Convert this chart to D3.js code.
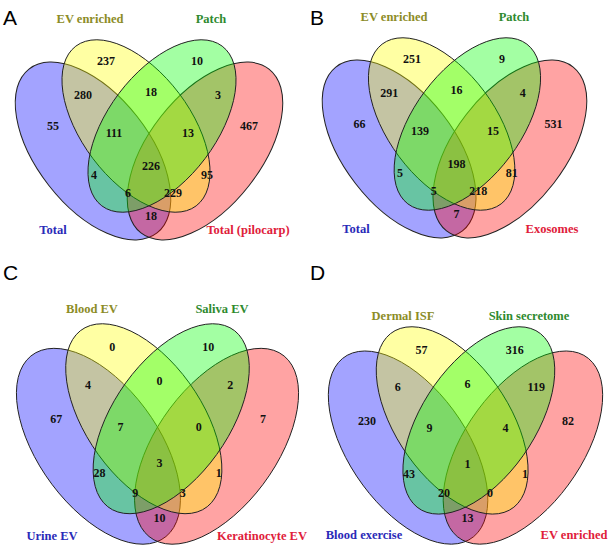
<!DOCTYPE html>
<html>
<head>
<meta charset="utf-8">
<script src="https://cdn.jsdelivr.net/npm/d3@7"></script>
<style>
  body { margin: 0; background: #fff; }
  text { font-family: "Liberation Serif", "Times New Roman", serif; font-weight: bold; }
</style>
</head>
<body>
<div class="chart"></div>
<script>
var svgWidth = 614;
var svgHeight = 548;

// panel data
var panelLetters = ["A", "B", "C", "D"];
var setNames = [
    ["Total", "EV enriched", "Patch", "Total (pilocarp)"],
    ["Total", "EV enriched", "Patch", "Exosomes"],
    ["Urine EV", "Blood EV", "Saliva EV", "Keratinocyte EV"],
    ["Blood exercise", "Dermal ISF", "Skin secretome", "EV enriched"]
];
// region order: Y, G, BY, YG, GR, B, BYG, YGR, R, BG, BYGR, YR, left-low, right-low, BR
var countsA = [237, 10, 280, 18, 3, 55, 111, 13, 467, 4, 226, 95, 6, 229, 18];
var countsB = [251, 9, 291, 16, 4, 66, 139, 15, 531, 5, 198, 81, 5, 218, 7];
var countsC = [0, 10, 4, 0, 2, 67, 7, 0, 7, 28, 3, 1, 9, 3, 10];
var countsD = [57, 316, 6, 6, 119, 230, 9, 4, 82, 43, 1, 1, 20, 0, 13];
var allCounts = [countsA, countsB, countsC, countsD];

// layout (base geometry drawn in a 12..286 x 40..237 box)
var regionPos = [[106,61],[197,61],[83,95],[151,92],[218,95],[53,126],[114,133],[188,133],
                 [249,126],[94,175],[151,166],[207,175],[128,193],[173,193],[151,216]];
var ellipses = [
    {cx: 93, cy: 151, a: 104, b: 56, rot: 52, fill: "#0000ff"},
    {cx: 205, cy: 151, a: 104, b: 56, rot: -52, fill: "#ff0000"},
    {cx: 136, cy: 126, a: 100, b: 54, rot: 53, fill: "#ffff00"},
    {cx: 162, cy: 126, a: 100, b: 54, rot: -53, fill: "#00ff00"}
];
var boxes = [
    {x0: 12, x1: 286, y0: 40, y1: 237, letter: [3, 25], top: [19, 90, 211], bot: [230, 53, 248]},
    {x0: 319, x1: 590, y0: 38, y1: 235, letter: [310, 25], top: [17, 394, 514], bot: [229, 356, 552]},
    {x0: 13, x1: 302, y0: 324, y1: 541, letter: [3, 280], top: [309, 92, 222], bot: [536, 52, 262]},
    {x0: 325, x1: 606, y0: 327, y1: 541, letter: [310, 280], top: [316, 403, 529], bot: [535, 364, 574]}
];
var labelColors = ["#2a2ab8", "#8c8c26", "#2e8a2e", "#e0203a"];

var svg = d3.select(".chart").append("svg")
    .attr("width", svgWidth)
    .attr("height", svgHeight);

boxes.forEach(function (box, i) {
    var x = d3.scaleLinear().domain([12, 286]).range([box.x0, box.x1]);
    var y = d3.scaleLinear().domain([40, 237]).range([box.y0, box.y1]);
    var sx = x(1) - x(0), sy = y(1) - y(0);

    var g = svg.append("g")
        .attr("transform", `translate(${x(0)},${y(0)}) scale(${sx},${sy})`);

    g.selectAll("ellipse")
        .data(ellipses)
        .enter()
        .append("ellipse")
        .attr("transform", d => `translate(${d.cx},${d.cy}) rotate(${d.rot})`)
        .attr("rx", d => d.a)
        .attr("ry", d => d.b)
        .attr("fill", d => d.fill)
        .attr("fill-opacity", 0.36)
        .attr("stroke", "#222")
        .attr("stroke-width", 1)
        .attr("vector-effect", "non-scaling-stroke");

    svg.append("g").selectAll("text")
        .data(allCounts[i])
        .enter()
        .append("text")
        .attr("x", (d, j) => x(regionPos[j][0]))
        .attr("y", (d, j) => y(regionPos[j][1]))
        .attr("dy", "0.35em")
        .attr("text-anchor", "middle")
        .attr("font-size", "12px")
        .attr("fill", "#111")
        .text(d => d);

    // set labels: 0 blue (bottom left), 1 yellow (top left), 2 green (top right), 3 red (bottom right)
    var lab = [[box.bot[1], box.bot[0]], [box.top[1], box.top[0]], [box.top[2], box.top[0]], [box.bot[2], box.bot[0]]];
    svg.append("g").selectAll("text")
        .data(setNames[i])
        .enter()
        .append("text")
        .attr("x", (d, j) => lab[j][0])
        .attr("y", (d, j) => lab[j][1])
        .attr("dy", "0.35em")
        .attr("text-anchor", "middle")
        .attr("font-size", "12.5px")
        .attr("fill", (d, j) => labelColors[j])
        .text(d => d);

    svg.append("text")
        .attr("x", box.letter[0])
        .attr("y", box.letter[1])
        .attr("font-size", "21px")
        .style("font-family", "Arial, 'Liberation Sans', sans-serif")
        .style("font-weight", "normal")
        .text(panelLetters[i]);
});
</script>
</body>
</html>
